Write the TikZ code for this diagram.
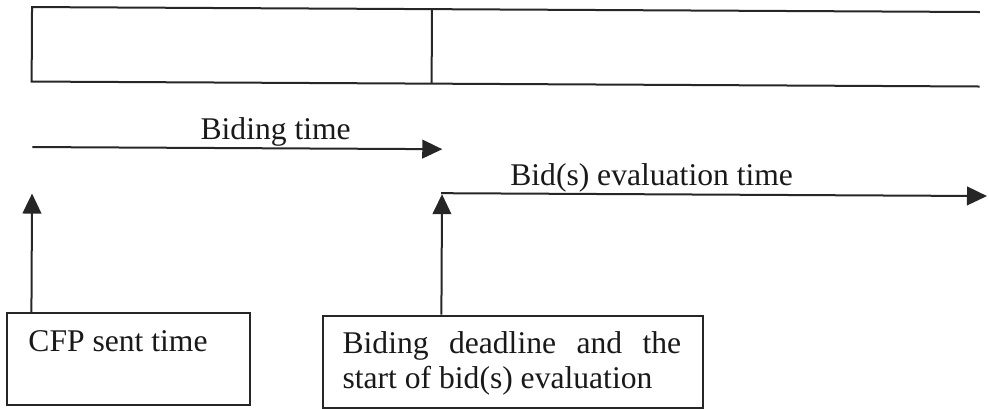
\documentclass[tikz,border=0pt]{standalone}
\usepackage{fontspec}
\setmainfont{Liberation Serif}
\usetikzlibrary{arrows.meta}
\begin{document}
\begin{tikzpicture}[x=0.75pt,y=-0.75pt,
    every node/.style={font=\fontsize{23.7}{26.25}\selectfont, text=black!90},
    rule/.style={line width=1.5pt, draw=black!85},
    timeline/.style={rule, -{Triangle[length=15pt,width=14pt]}},
    box/.style={rule, rectangle, inner sep=0pt, anchor=north west},
    label/.style={inner sep=0pt, anchor=base west}]
  \useasboundingbox (0,0) rectangle (989,409);
  \begin{scope}[rotate around={-0.3:(500,200)}]
    % table row at the top, open on the right
    \coordinate (tl) at (31,9.5);
    \coordinate (tr) at (979,9.5);
    \coordinate (bl) at (31,84);
    \coordinate (br) at (979,84);
    \coordinate (dt) at (431,9.5);
    \coordinate (db) at (431,84);
    \draw[rule] (tr) -- (tl) -- (bl) -- (br);
    \draw[rule] (dt) -- (db);

    % time points
    \coordinate (t0) at (32,149.5);
    \coordinate (t1) at (442,149.5);
    \coordinate (e0) at (441,193.5);
    \coordinate (e1) at (987,193.5);
    \coordinate (p0) at (32,196);
    \coordinate (p1) at (442,194.5);

    % bidding period
    \draw[timeline] (t0) -- (t1);
    \node[label] (bidlbl) at (200,141) {Biding time};

    % evaluation period
    \draw[timeline] (e0) -- (e1);
    \node[label] (evallbl) at (510,185) {Bid(s) evaluation time};

    % event boxes (243 x 92 and 380 x 92 units)
    \node[box, minimum width=182.25pt, minimum height=69pt] (cfp) at (7,315) {};
    \node[label] (cfptxt) at (29,354) {CFP sent time};
    \node[box, minimum width=285pt, minimum height=69pt] (dead) at (323,316) {};
    \node[inner sep=0pt, anchor=north west, text width=254pt, align=justify] (deadtxt) at (343,332)
      {Biding deadline and the start of bid(s) evaluation};

    % arrows from the events up to the time axis
    \draw[timeline] (p0 |- cfp.north) -- (p0);
    \draw[timeline] (p1 |- dead.north) -- (p1);
  \end{scope}
\end{tikzpicture}
\end{document}
